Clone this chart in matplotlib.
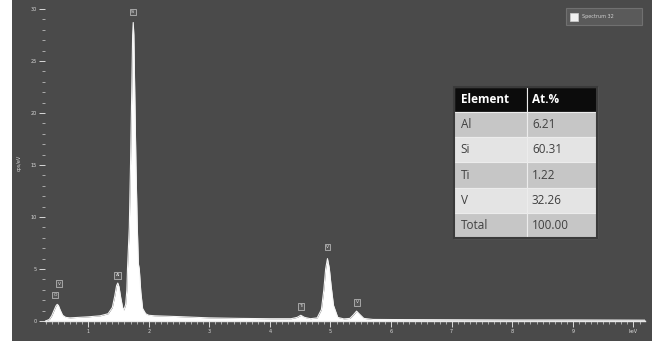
import numpy as np
import matplotlib.pyplot as plt
from matplotlib.patches import Rectangle
from matplotlib.ticker import MultipleLocator, FixedLocator

# EDS spectrum, energy in keV vs intensity in cps/eV
energy = [0.30, 0.36, 0.40, 0.44, 0.47, 0.49, 0.51, 0.54, 0.58, 0.63, 0.70, 0.85,
          1.00, 1.20, 1.33, 1.40, 1.44, 1.47, 1.49, 1.51, 1.54, 1.57, 1.59, 1.62,
          1.64, 1.65, 1.68, 1.70, 1.72, 1.735, 1.745, 1.755, 1.77, 1.79, 1.81, 1.83,
          1.845, 1.87, 1.90, 1.95, 2.00, 2.10, 2.50, 3.00, 3.50, 4.00, 4.35, 4.45,
          4.51, 4.57, 4.67, 4.78, 4.85, 4.89, 4.92, 4.95, 4.98, 5.01, 5.05, 5.12,
          5.22, 5.32, 5.38, 5.43, 5.48, 5.55, 5.70, 6.00, 7.00, 8.00, 9.00, 10.20]
cps = [0.00, 0.15, 0.50, 1.05, 1.45, 1.60, 1.50, 1.05, 0.55, 0.35, 0.30, 0.35,
       0.40, 0.50, 0.70, 1.30, 2.40, 3.40, 3.65, 3.30, 2.20, 1.30, 1.05, 1.60,
       3.00, 5.00, 9.00, 15.0, 22.0, 27.5, 28.7, 27.5, 22.0, 15.0, 9.50, 5.50,
       5.00, 2.80, 1.20, 0.70, 0.55, 0.50, 0.42, 0.30, 0.25, 0.22, 0.22, 0.35,
       0.55, 0.35, 0.22, 0.30, 1.10, 3.00, 5.00, 6.00, 5.10, 3.40, 1.50, 0.35,
       0.20, 0.25, 0.60, 0.95, 0.65, 0.25, 0.15, 0.14, 0.12, 0.10, 0.10, 0.08]

# peak markers: symbol, energy, label height
peak_names = ["O", "V", "Al", "Si", "Ti", "V", "V"]
peak_keV = [0.46, 0.52, 1.49, 1.74, 4.51, 4.95, 5.44]
peak_y = [2.5, 3.6, 4.4, 29.7, 1.4, 7.1, 1.8]

table_rows = ["Al", "Si", "Ti", "V", "Total"]
table_vals = ["6.21", "60.31", "1.22", "32.26", "100.00"]
spectrum_name = "Spectrum 32"

W, H = 652, 341
BG = "#4a4a4a"
FG = "#d8d8d8"

fig = plt.figure(figsize=(W / 100, H / 100), dpi=100)
fig.patch.set_facecolor("white")

# dark panel behind everything
bg = fig.add_axes([12 / W, 0, 1 - 12 / W, 1], zorder=-5)
bg.set_facecolor(BG)
bg.set_xticks([])
bg.set_yticks([])
for s in bg.spines.values():
    s.set_visible(False)

ax = fig.add_axes([45 / W, 20 / H, 600 / W, 316 / H])
ax.set_facecolor("none")
ax.fill_between(energy, cps, 0, color="white", lw=0, zorder=2)
ax.plot(energy, cps, color="#f4f4f4", lw=0.8, zorder=3)
ax.set_xlim(0.289, 10.19)
ax.set_ylim(0, 30.38)

for s in ["top", "right", "left"]:
    ax.spines[s].set_visible(False)
ax.spines["bottom"].set_color("#e8e8e8")
ax.spines["bottom"].set_linewidth(1.0)

ax.xaxis.set_major_locator(FixedLocator(range(1, 11)))
ax.xaxis.set_minor_locator(MultipleLocator(0.1))
ax.set_xticklabels([str(i) for i in range(1, 10)] + ["keV"])
ax.yaxis.set_major_locator(MultipleLocator(5))
ax.yaxis.set_minor_locator(MultipleLocator(1))
ax.tick_params(which="major", colors=FG, labelsize=3.5, length=4, width=0.7, pad=2)
ax.tick_params(which="minor", colors="#bbbbbb", length=2, width=0.6)
ax.set_ylabel("cps/eV", color=FG, fontsize=3.5, labelpad=6)

for name, x, y in zip(peak_names, peak_keV, peak_y):
    ax.text(x, y, name, fontsize=3.2, color="#e0e0e0", ha="center", va="center", zorder=5,
            bbox=dict(boxstyle="square,pad=0.3", fc="#555555", ec="#c8c8c8", lw=0.5))

# composition table
tax = fig.add_axes([454 / W, 103 / H, 143 / W, 151 / H])
tax.axis("off")
cells = [["Element", "At.%"]] + [[r, v] for r, v in zip(table_rows, table_vals)]
tb = tax.table(cellText=cells, bbox=[0, 0, 1, 1], cellLoc="left", colWidths=[73, 70])
tb.auto_set_font_size(False)
for (r, c), cell in tb.get_celld().items():
    cell.set_edgecolor("#ececec")
    cell.set_linewidth(0.8)
    cell.PAD = 0.09 if c == 0 else 0.07
    txt = cell.get_text()
    txt.set_fontfamily("Open Sans")
    txt.set_fontsize(8.5)
    if r == 0:
        cell.set_facecolor("#0c0c0c")
        txt.set_color("white")
        txt.set_fontweight("bold")
    else:
        cell.set_facecolor("#c6c6c6" if r % 2 else "#e4e4e4")
        txt.set_color("#404040")
tax.add_patch(Rectangle((0, 0), 1, 1, transform=tax.transAxes, facecolor="none",
                        edgecolor="#3a3a3a", lw=1.5, clip_on=False, zorder=10))

# spectrum legend box
fig.patches.append(Rectangle((566 / W, (H - 25) / H), 76 / W, 17 / H, transform=fig.transFigure,
                             facecolor="#5a5a5a", edgecolor="#707070", lw=0.8))
fig.patches.append(Rectangle((570 / W, (H - 21) / H), 8 / W, 8 / H, transform=fig.transFigure,
                             facecolor="#f0f0f0", edgecolor="#cccccc", lw=0.5))
fig.text(582 / W, (H - 16.5) / H, spectrum_name, color="#cfcfcf", fontsize=3.5, va="center")

fig.savefig("out.png", dpi=100)
